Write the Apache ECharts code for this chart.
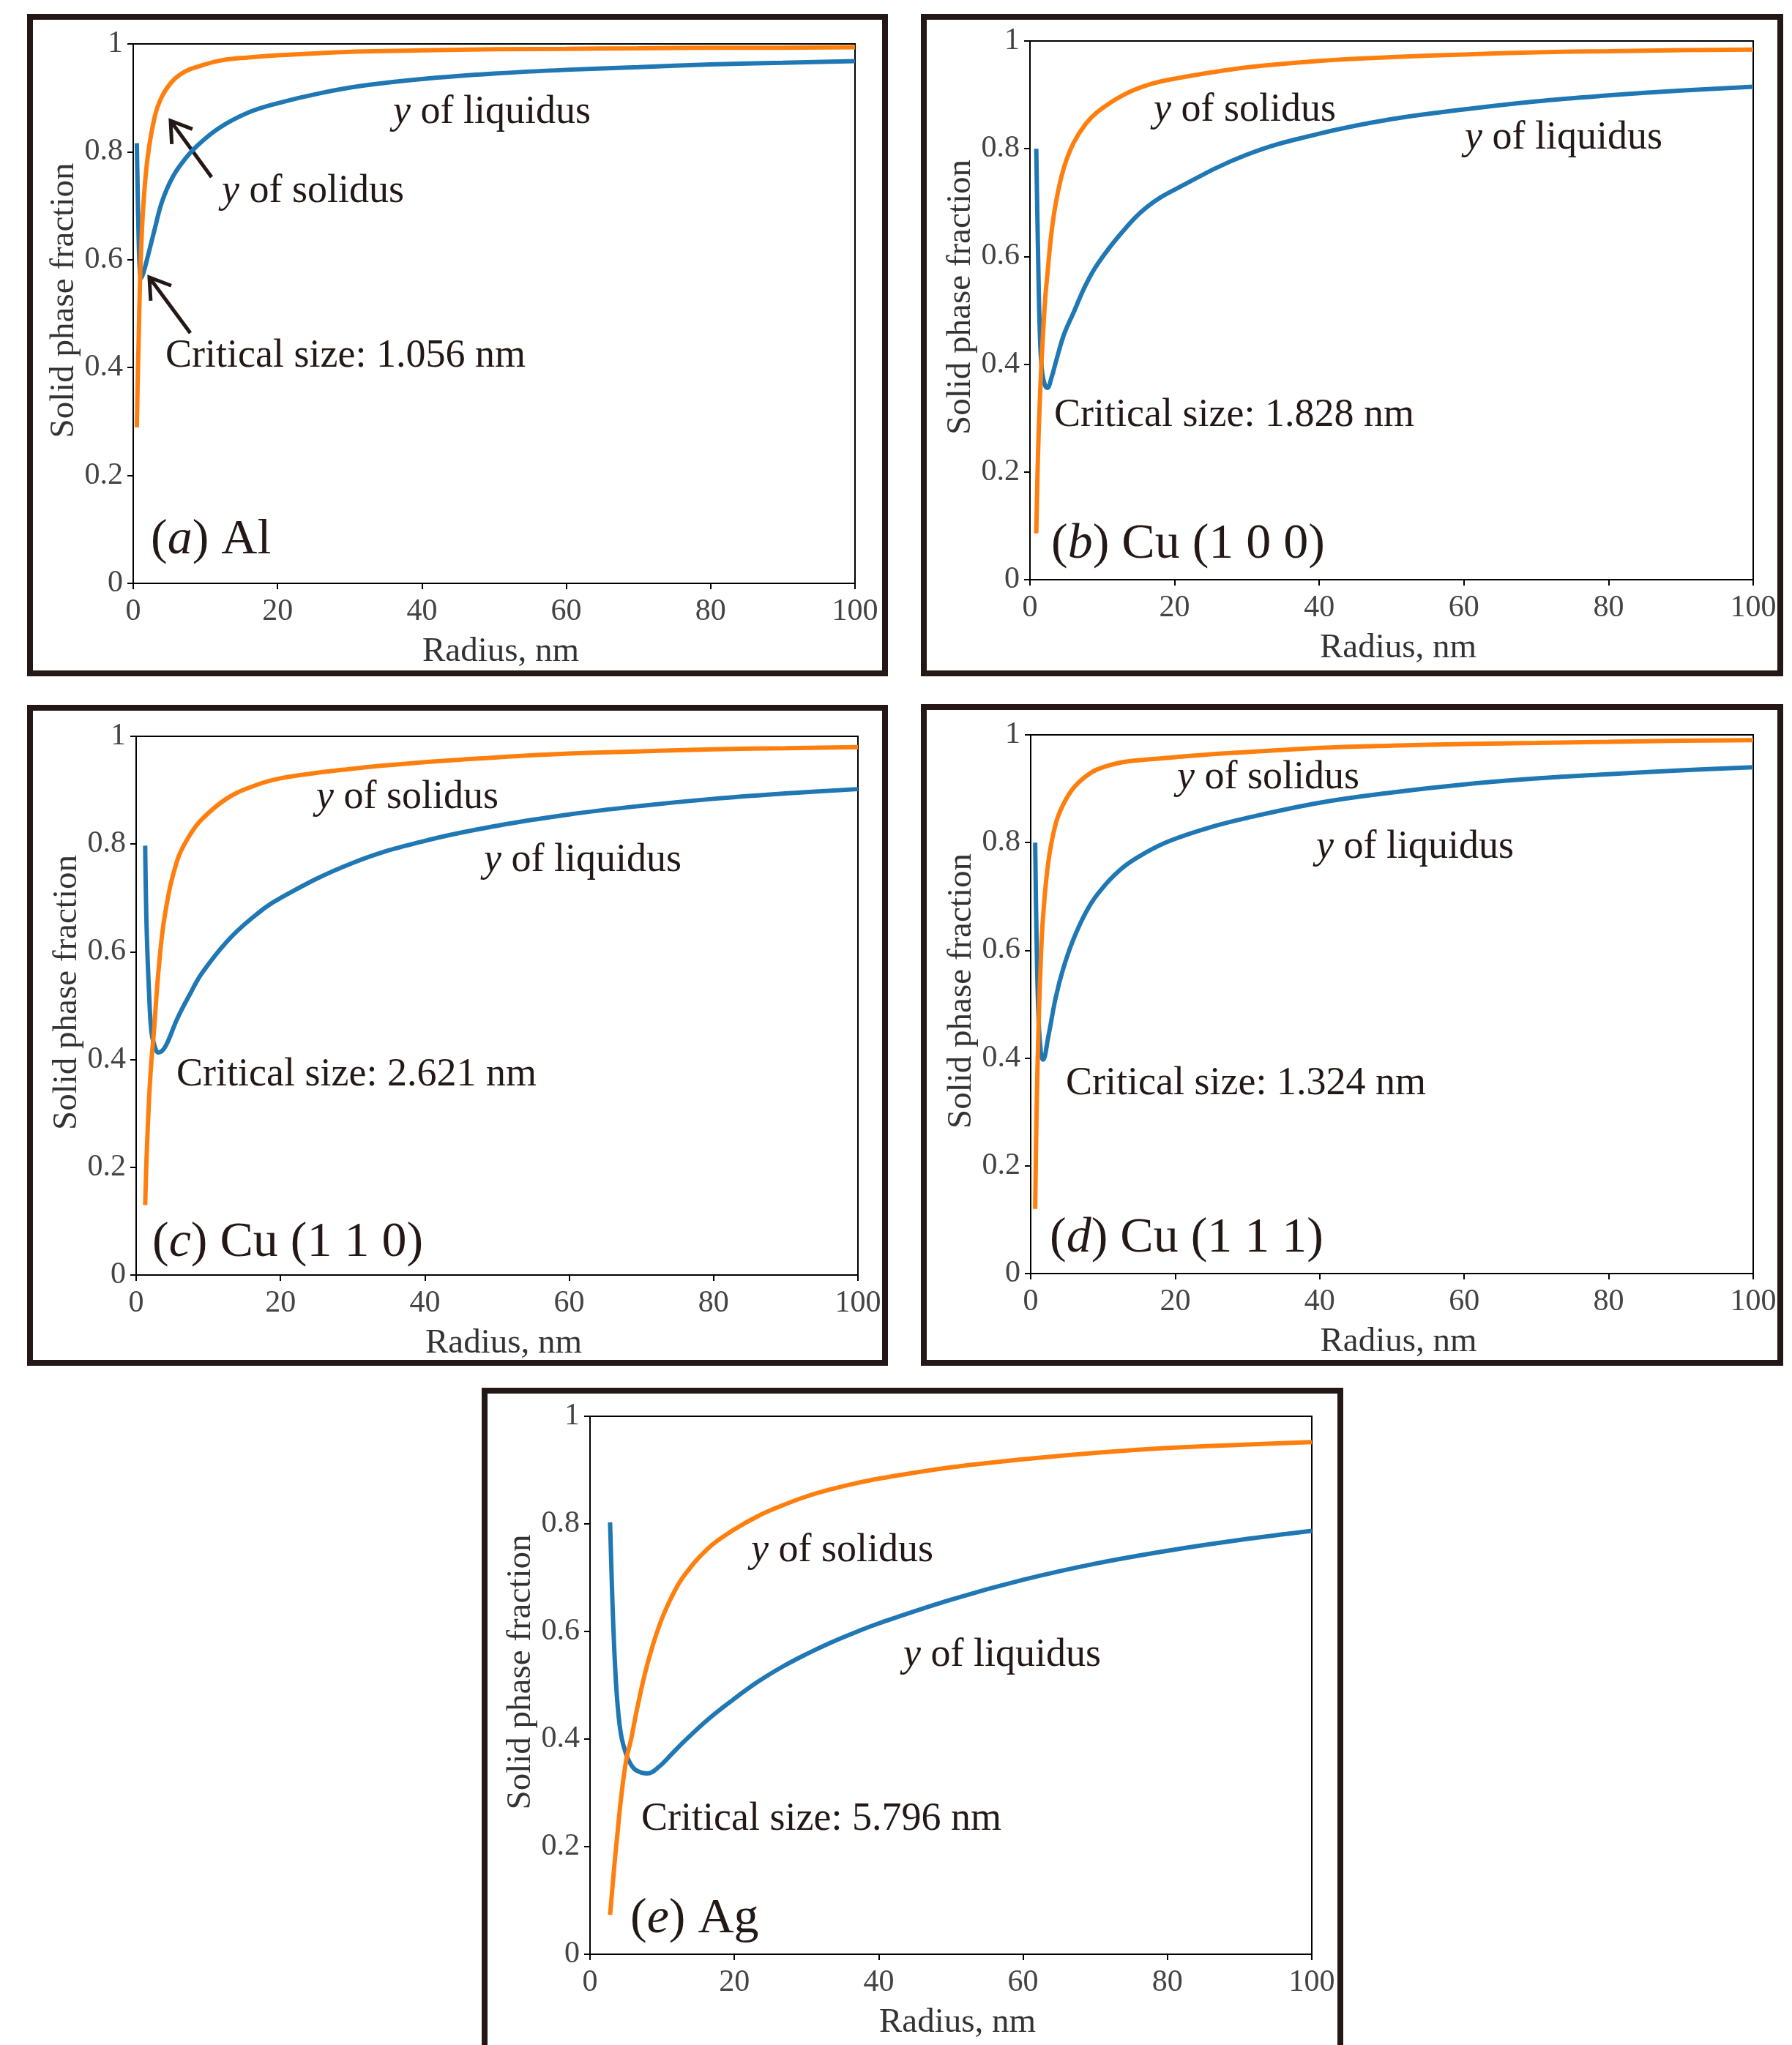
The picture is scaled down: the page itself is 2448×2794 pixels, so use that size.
<!DOCTYPE html>
<html>
<head>
<meta charset="utf-8">
<script src="https://cdn.jsdelivr.net/npm/echarts@6/dist/echarts.min.js"></script>
<style>
  html, body { margin: 0; padding: 0; background: #fff; }
  #main { width: 2448px; height: 2794px; }
</style>
</head>
<body>
<div id="main"></div>
<script>
// axis ticks shared by all five panels
var xTicks = [0, 20, 40, 60, 80, 100];
var yTicks = [0, 0.2, 0.4, 0.6, 0.8, 1];

// (a) Al
var radiusA   = [0.5, 0.6, 0.75, 0.9, 1.1, 1.4, 2.0, 3.0, 4.0, 5.5, 7.2, 9, 12, 16, 20, 26, 32, 40, 50, 60, 70, 80, 90, 100];
var liquidusA = [0.816, 0.74, 0.64, 0.585, 0.566, 0.575, 0.605, 0.658, 0.708, 0.754, 0.787, 0.813, 0.845, 0.873, 0.890, 0.909, 0.923, 0.935, 0.945, 0.952, 0.957, 0.962, 0.965, 0.968];
var solidusA  = [0.289, 0.36, 0.45, 0.54, 0.62, 0.70, 0.79, 0.866, 0.903, 0.932, 0.949, 0.958, 0.969, 0.975, 0.979, 0.983, 0.986, 0.988, 0.990, 0.991, 0.992, 0.993, 0.993, 0.994];

// (b) Cu (1 0 0)
var radiusB   = [0.87, 1.1, 1.4, 1.7, 2.1, 2.4, 3.0, 3.7, 4.7, 6, 7.7, 9.4, 12.8, 16.2, 20, 30, 40, 50, 60, 70, 80, 90, 100];
var liquidusB = [0.80, 0.62, 0.445, 0.383, 0.36, 0.356, 0.376, 0.41, 0.455, 0.495, 0.547, 0.587, 0.646, 0.692, 0.724, 0.789, 0.828, 0.855, 0.873, 0.888, 0.899, 0.908, 0.915];
var solidusB  = [0.086, 0.225, 0.345, 0.43, 0.52, 0.565, 0.647, 0.708, 0.765, 0.81, 0.846, 0.869, 0.899, 0.918, 0.93, 0.951, 0.963, 0.97, 0.975, 0.979, 0.981, 0.983, 0.984];

// (c) Cu (1 1 0)
var radiusC   = [1.25, 1.45, 1.8, 2.1, 2.45, 3.1, 4.0, 5.7, 7.4, 9.1, 12.5, 15.9, 20, 30, 40, 50, 60, 70, 80, 90, 100];
var liquidusC = [0.797, 0.645, 0.52, 0.453, 0.43, 0.413, 0.423, 0.476, 0.52, 0.56, 0.618, 0.661, 0.70, 0.765, 0.806, 0.834, 0.855, 0.871, 0.884, 0.894, 0.902];
var solidusC  = [0.13, 0.22, 0.33, 0.395, 0.45, 0.565, 0.67, 0.77, 0.816, 0.846, 0.884, 0.906, 0.922, 0.94, 0.952, 0.961, 0.968, 0.972, 0.976, 0.978, 0.98];

// (d) Cu (1 1 1)
var radiusD   = [0.62, 0.81, 1.09, 1.43, 1.7, 2.44, 3.46, 4.48, 5.84, 7.54, 9.24, 12.6, 16, 19.4, 25, 30, 40, 50, 60, 70, 80, 90, 100];
var liquidusD = [0.80, 0.625, 0.473, 0.407, 0.397, 0.44, 0.512, 0.565, 0.618, 0.668, 0.704, 0.752, 0.782, 0.804, 0.829, 0.846, 0.874, 0.893, 0.908, 0.919, 0.927, 0.934, 0.94];
var solidusD  = [0.12, 0.294, 0.46, 0.592, 0.66, 0.764, 0.835, 0.87, 0.9, 0.922, 0.936, 0.949, 0.954, 0.958, 0.964, 0.968, 0.976, 0.98, 0.983, 0.985, 0.987, 0.989, 0.99];

// (e) Ag
var radiusE   = [2.78, 3.12, 3.46, 3.8, 4.3, 5.0, 5.7, 6.5, 7.9, 9.6, 11.3, 13, 16.4, 19.8, 23.2, 26.6, 30, 33.3, 36.7, 40, 50, 60, 70, 80, 90, 100];
var liquidusE = [0.803, 0.65, 0.539, 0.467, 0.408, 0.372, 0.352, 0.341, 0.336, 0.349, 0.372, 0.395, 0.437, 0.473, 0.506, 0.534, 0.558, 0.579, 0.598, 0.615, 0.659, 0.696, 0.726, 0.75, 0.77, 0.787];
var solidusE  = [0.073, 0.126, 0.178, 0.224, 0.29, 0.36, 0.40, 0.455, 0.537, 0.611, 0.664, 0.703, 0.755, 0.788, 0.814, 0.834, 0.851, 0.864, 0.875, 0.884, 0.905, 0.92, 0.932, 0.941, 0.947, 0.952];

var panels = [
  { r: radiusA, liq: liquidusA, sol: solidusA },
  { r: radiusB, liq: liquidusB, sol: solidusB },
  { r: radiusC, liq: liquidusC, sol: solidusC },
  { r: radiusD, liq: liquidusD, sol: solidusD },
  { r: radiusE, liq: liquidusE, sol: solidusE }
];

// plot areas and frames, in page pixels
var grids = [
  { left: 182, top: 60, width: 986, height: 737 },
  { left: 1407, top: 56, width: 988, height: 736 },
  { left: 186, top: 1006, width: 986, height: 736 },
  { left: 1408, top: 1004, width: 987, height: 736 },
  { left: 806, top: 1935, width: 986, height: 735 }
];
var frames = [
  [41, 23, 1168, 897],
  [1262, 23, 1170, 897],
  [41, 967, 1168, 895],
  [1262, 966, 1170, 896],
  [662, 1900, 1169, 1000]
];

var serif = 'Liberation Serif, Times New Roman, serif';
var ink = '#231815';
var blue = '#1f77b4';
var orange = '#ff7f0e';

function pairs(xs, ys) {
  return xs.map(function (x, i) { return [x, ys[i]]; });
}

var notes = [
  [537, 154, '{i|y} of liquidus'],
  [303, 262, '{i|y} of solidus'],
  [226, 487, 'Critical size: 1.056 nm'],
  [1576, 151, '{i|y} of solidus'],
  [2001, 189, '{i|y} of liquidus'],
  [1440, 568, 'Critical size: 1.828 nm'],
  [432, 1090, '{i|y} of solidus'],
  [661, 1176, '{i|y} of liquidus'],
  [241, 1469, 'Critical size: 2.621 nm'],
  [1608, 1063, '{i|y} of solidus'],
  [1798, 1158, '{i|y} of liquidus'],
  [1456, 1481, 'Critical size: 1.324 nm'],
  [1026, 2119, '{i|y} of solidus'],
  [1234, 2262, '{i|y} of liquidus'],
  [876, 2486, 'Critical size: 5.796 nm']
];
var tags = [
  [206, 738, '({i|a}) Al'],
  [1436, 744, '({i|b}) Cu (1 0 0)'],
  [208, 1698, '({i|c}) Cu (1 1 0)'],
  [1434, 1692, '({i|d}) Cu (1 1 1)'],
  [861, 2622, '({i|e}) Ag']
];

function arrow(tail, tip) {
  var dx = tail[0] - tip[0], dy = tail[1] - tip[1];
  var len = Math.sqrt(dx * dx + dy * dy);
  var ux = dx / len, uy = dy / len;
  var a = 33 * Math.PI / 180, arm = 32;
  function rot(t) {
    return [tip[0] + arm * (ux * Math.cos(t) - uy * Math.sin(t)),
            tip[1] + arm * (ux * Math.sin(t) + uy * Math.cos(t))];
  }
  return [
    { type: 'line', shape: { x1: tail[0], y1: tail[1], x2: tip[0] + ux * 3, y2: tip[1] + uy * 3 },
      style: { stroke: ink, lineWidth: 5 } },
    { type: 'polyline', shape: { points: [rot(a), tip, rot(-a)] },
      style: { stroke: ink, lineWidth: 5, fill: null, lineJoin: 'miter' } }
  ];
}

var graphic = [];
frames.forEach(function (f) {
  graphic.push({ type: 'rect', shape: { x: f[0], y: f[1], width: f[2], height: f[3] },
    style: { fill: null, stroke: ink, lineWidth: 8 }, z: 10 });
});
notes.forEach(function (n) {
  graphic.push({ type: 'text', x: n[0], y: n[1], z: 20,
    style: { text: n[2], fontFamily: serif, fontSize: 54, fill: ink, align: 'left', verticalAlign: 'middle',
      rich: { i: { fontFamily: serif, fontSize: 54, fontStyle: 'italic', fill: ink } } } });
});
tags.forEach(function (n) {
  graphic.push({ type: 'text', x: n[0], y: n[1], z: 20,
    style: { text: n[2], fontFamily: serif, fontSize: 68, fill: ink, align: 'left', verticalAlign: 'middle',
      rich: { i: { fontFamily: serif, fontSize: 68, fontStyle: 'italic', fill: ink } } } });
});
graphic = graphic.concat(arrow([289, 242], [233, 165]), arrow([260, 455], [204, 379]));

var xAxes = [], yAxes = [], series = [];
grids.forEach(function (g, i) {
  xAxes.push({
    type: 'value', gridIndex: i,
    min: xTicks[0], max: xTicks[xTicks.length - 1], interval: xTicks[1] - xTicks[0],
    name: 'Radius, nm', nameLocation: 'middle', nameGap: 70,
    nameTextStyle: { fontFamily: serif, fontSize: 47, color: '#333', padding: [0, 0, 0, 18] },
    axisLine: { show: true, onZero: false, lineStyle: { color: '#000', width: 2 } },
    axisTick: { show: true, inside: false, length: 8, lineStyle: { color: '#000', width: 2 } },
    axisLabel: { fontFamily: serif, fontSize: 42, color: '#444', margin: 18 },
    splitLine: { show: false }
  });
  yAxes.push({
    type: 'value', gridIndex: i,
    min: yTicks[0], max: yTicks[yTicks.length - 1], interval: yTicks[1] - yTicks[0],
    name: 'Solid phase fraction', nameLocation: 'middle', nameGap: 70,
    nameTextStyle: { fontFamily: serif, fontSize: 47, color: '#333', padding: [0, 0, 0, 36] },
    axisLine: { show: true, onZero: false, lineStyle: { color: '#000', width: 2 } },
    axisTick: { show: true, inside: false, length: 8, lineStyle: { color: '#000', width: 2 } },
    axisLabel: { fontFamily: serif, fontSize: 42, color: '#444', margin: 14 },
    splitLine: { show: false }
  });
  var p = panels[i];
  series.push({
    type: 'line', name: 'y of liquidus', xAxisIndex: i, yAxisIndex: i,
    data: pairs(p.r, p.liq), showSymbol: false, smooth: 0.4,
    lineStyle: { color: blue, width: 6 }, itemStyle: { color: blue }, z: 3, silent: true
  });
  series.push({
    type: 'line', name: 'y of solidus', xAxisIndex: i, yAxisIndex: i,
    data: pairs(p.r, p.sol), showSymbol: false, smooth: 0.4,
    lineStyle: { color: orange, width: 6 }, itemStyle: { color: orange }, z: 4, silent: true
  });
});

var chart = echarts.init(document.getElementById('main'), null, { renderer: 'canvas' });
chart.setOption({
  backgroundColor: '#fff',
  animation: false,
  grid: grids.map(function (g) {
    return { left: g.left, top: g.top, width: g.width, height: g.height,
      show: true, borderColor: '#000', borderWidth: 2, backgroundColor: 'transparent' };
  }),
  xAxis: xAxes,
  yAxis: yAxes,
  series: series,
  graphic: graphic
});
</script>
</body>
</html>
